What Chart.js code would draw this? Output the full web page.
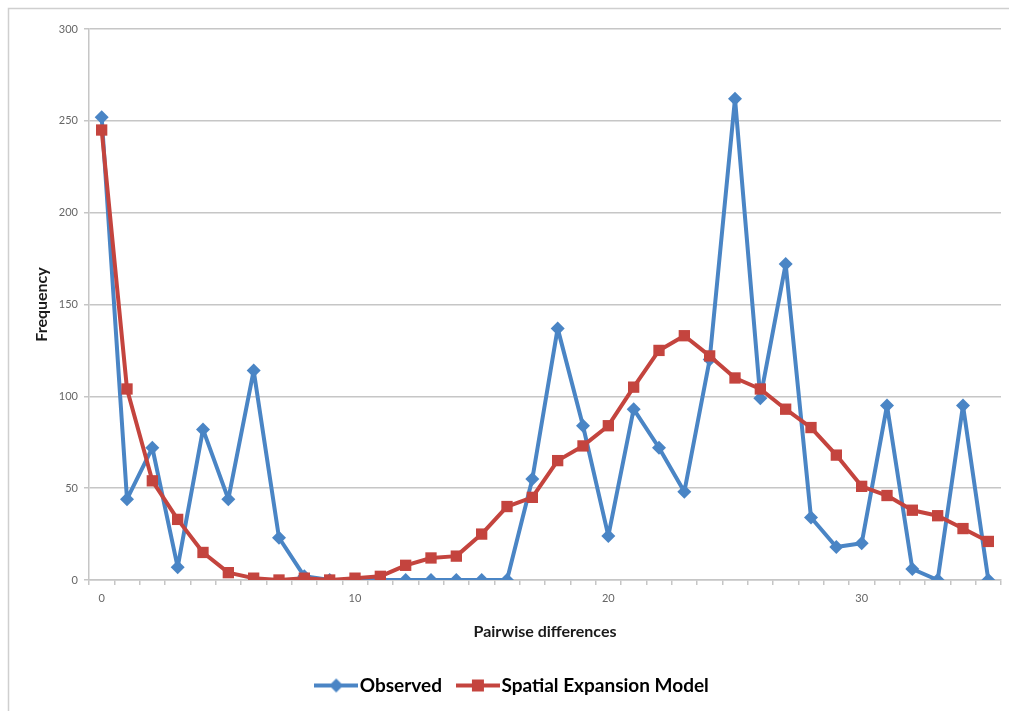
<!DOCTYPE html>
<html>
<head>
<meta charset="utf-8">
<script src="https://cdn.jsdelivr.net/npm/chart.js@4/dist/chart.umd.min.js"></script>
<style>
  body { margin: 0; background: #fff; }
  canvas { display: block; }
</style>
</head>
<body>
<canvas id="freqChart" width="1009" height="711"></canvas>
<script>
// pairwise differences (x categories)
var differences = [0,1,2,3,4,5,6,7,8,9,10,11,12,13,14,15,16,17,18,19,20,21,22,23,24,25,26,27,28,29,30,31,32,33,34,35];
// observed frequencies (blue)
var observed = [252,44,72,7,82,44,114,23,2,0,0,0,0,0,0,0,0,55,137,84,24,93,72,48,120,262,99,172,34,18,20,95,6,0,95,0];
// spatial expansion model (red)
var model = [245,104,54,33,15,4,1,0,1,0,1,2,8,12,13,25,40,45,65,73,84,105,125,133,122,110,104,93,83,68,51,46,38,35,28,21];
var yTicks = [0,50,100,150,200,250,300];

var blue = '#4A85C5';
var red = '#C4443E';
var gridGrey = '#c6c6c6';

// small line+marker swatch for the legend
function legendSwatch(color, shape) {
    var c = document.createElement('canvas');
    c.width = 44; c.height = 16;
    var g = c.getContext('2d');
    g.strokeStyle = color;
    g.lineWidth = 4;
    g.beginPath();
    g.moveTo(0, 8); g.lineTo(44, 8);
    g.stroke();
    g.fillStyle = color;
    g.beginPath();
    if (shape === 'diamond') {
        g.moveTo(22, 1); g.lineTo(29, 8); g.lineTo(22, 15); g.lineTo(15, 8);
    } else {
        g.rect(16, 2, 12, 12);
    }
    g.fill();
    return c;
}

// thin frame round the chart, like the original picture
var framePlugin = {
    id: 'frame',
    beforeDraw: function(chart) {
        var ctx = chart.ctx;
        ctx.save();
        ctx.strokeStyle = '#cfcfcf';
        ctx.lineWidth = 1.5;
        ctx.beginPath();
        ctx.moveTo(8.5, 711); ctx.lineTo(8.5, 8.5); ctx.lineTo(1009, 8.5);
        ctx.stroke();
        ctx.restore();
    }
};

var swatches = [legendSwatch(blue, 'diamond'), legendSwatch(red, 'square')];

var ctx = document.getElementById('freqChart').getContext('2d');

var chart = new Chart(ctx, {
    type: 'line',
    data: {
        labels: differences,
        datasets: [{
            label: 'Observed',
            data: observed,
            borderColor: blue,
            backgroundColor: blue,
            borderWidth: 4,
            borderJoinStyle: 'round',
            pointStyle: 'rectRot',
            pointRadius: 7,
            pointBorderWidth: 0,
            tension: 0,
            order: 2
        }, {
            label: 'Spatial Expansion Model',
            data: model,
            borderColor: red,
            backgroundColor: red,
            borderWidth: 4,
            borderJoinStyle: 'round',
            pointStyle: 'rect',
            pointRadius: 8,
            pointBorderWidth: 0,
            tension: 0,
            order: 1
        }]
    },
    options: {
        responsive: false,
        animation: false,
        layout: { padding: { left: 28, right: 6, top: 29, bottom: 6 } },
        plugins: {
            tooltip: { enabled: false },
            legend: {
                position: 'bottom',
                labels: {
                    usePointStyle: true,
                    pointStyleWidth: 28,
                    padding: 22,
                    color: '#1a1a1a',
                    font: { family: 'Lato', size: 19, weight: 'bold' },
                    sort: function(a, b) { return a.datasetIndex - b.datasetIndex; },
                    generateLabels: function(ch) {
                        return ch.data.datasets.map(function(ds, i) {
                            return {
                                text: ds.label,
                                pointStyle: swatches[i],
                                fillStyle: ds.borderColor,
                                strokeStyle: ds.borderColor,
                                lineWidth: 0,
                                hidden: false,
                                datasetIndex: i
                            };
                        });
                    }
                }
            }
        },
        scales: {
            x: {
                type: 'category',
                offset: true,
                grid: { offset: true, drawOnChartArea: false, tickLength: 5, color: gridGrey, lineWidth: 1.5 },
                border: { color: gridGrey, width: 1.5 },
                ticks: {
                    autoSkip: false,
                    maxRotation: 0,
                    padding: 7,
                    color: '#666',
                    font: { family: 'Lato', size: 11 },
                    callback: function(val, i) {
                        return differences[i] % 10 === 0 ? String(differences[i]) : '';
                    }
                },
                title: {
                    display: true,
                    text: 'Pairwise differences',
                    color: '#1a1a1a',
                    font: { family: 'Lato', size: 16, weight: 'bold' },
                    padding: { top: 6, bottom: 13 }
                },
                afterFit: function(scale) { scale.height = 74; }
            },
            y: {
                min: yTicks[0],
                max: yTicks[yTicks.length - 1],
                grid: { color: gridGrey, lineWidth: 1.5, tickLength: 5 },
                border: { color: gridGrey, width: 1.5 },
                ticks: {
                    stepSize: yTicks[1] - yTicks[0],
                    padding: 6,
                    color: '#666',
                    font: { family: 'Lato', size: 11 }
                },
                title: {
                    display: true,
                    text: 'Frequency',
                    color: '#1a1a1a',
                    font: { family: 'Lato', size: 16, weight: 'bold' },
                    padding: { top: 4, bottom: 4 }
                },
                afterFit: function(scale) { scale.width = 61; }
            }
        }
    },
    plugins: [framePlugin]
});
</script>
</body>
</html>
